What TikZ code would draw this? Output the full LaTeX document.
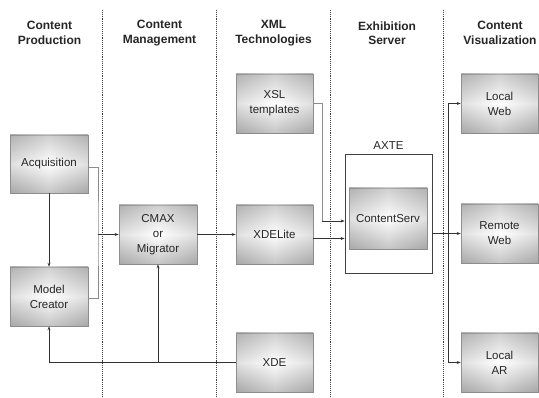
\documentclass[tikz,border=0pt]{standalone}
\usepackage{fontspec}
\setmainfont{Liberation Sans}
\usetikzlibrary{arrows.meta}

\tikzset{
  boxnode/.style={
    draw=black!45, line width=0.6pt,
    minimum width=77pt, minimum height=59pt,
    align=center, inner sep=1pt,
    font=\fontsize{11.5}{15}\selectfont, text=black!85,
    top color=black!26, bottom color=black!32, middle color=white,
    postaction={left color=black!40, right color=black!40, middle color=white, fill opacity=0.3}
  },
  header/.style={align=center, font=\bfseries\fontsize{12}{14.5}\selectfont, text=black!85},
  divider/.style={densely dotted, line width=0.9pt, black!75},
  link/.style={line width=0.7pt, black!80},
  arr/.style={link, -{Stealth[length=4pt,width=3pt]}},
  faint/.style={line width=0.7pt, black!45}
}

\begin{document}
\begin{tikzpicture}[x=1pt,y=-1pt]
  \useasboundingbox (0,0) rectangle (539,398);

  % column dividers
  \foreach \xx in {102,216,330,443}
    \draw[divider] (\xx,10) -- (\xx,398);

  % column headings
  \node[header] (h1) at (49.5,33) {Content\\Production};
  \node[header] (h2) at (159.5,33) {Content\\Management};
  \node[header] (h3) at (273.5,33) {XML\\Technologies};
  \node[header] (h4) at (387,33) {Exhibition\\Server};
  \node[header] (h5) at (500,33) {Content\\Visualization};

  % content production
  \node[boxnode, minimum width=78pt, minimum height=58pt] (acq) at (49,164) {Acquisition};
  \node[boxnode, minimum width=78pt] (model) at (49,296.5) {Model\\Creator};

  % content management
  \node[boxnode, minimum width=78pt] (cmax) at (158,234.5) {CMAX\\or\\Migrator};

  % XML technologies
  \node[boxnode] (xsl) at (274.5,103.5) {XSL\\templates};
  \node[boxnode] (xdelite) at (274.5,234.5) {XDELite};
  \node[boxnode] (xde) at (274.5,362.5) {XDE};

  % exhibition server
  \node[draw=black!75, line width=0.8pt, fill=white, minimum width=87pt, minimum height=119pt] (axte) at (388.5,213.5) {};
  \node[font=\fontsize{11.5}{13}\selectfont, text=black!85] (axtelbl) at (388.5,146) {AXTE};
  \node[boxnode, minimum width=78pt, minimum height=61pt] (cserv) at (388,218.5) {ContentServ};

  % content visualization
  \node[boxnode] (lweb) at (499.5,103.5) {Local\\Web};
  \node[boxnode] (rweb) at (499.5,233.5) {Remote\\Web};
  \node[boxnode] (lar) at (499.5,362.5) {Local\\AR};

  % production to management
  \draw[arr] (acq.south) -- (model.north);
  \coordinate (join) at (98,0 |- cmax.west);
  \draw[faint] ([yshift=-3.5pt]acq.east) -| (join) |- ([yshift=-1.5pt]model.east);
  \draw[arr] (join) -- (cmax.west);

  % management to XML
  \draw[arr] (cmax.east) -- (xdelite.west);
  \draw[arr] (xde.west) -| (model.south);
  \coordinate (tap) at (cmax.south |- xde.west);
  \draw[arr] (tap) -- (cmax.south);

  % XML to server
  \coordinate (xslbend) at (322,221);
  \draw[faint] (xsl.east) -| (xslbend);
  \draw[arr] (xslbend) -- (axte.west |- xslbend);
  \coordinate (xdeout) at ([yshift=-4pt]xdelite.east);
  \draw[arr] (xdeout) -- (axte.west |- xdeout);

  % server to visualization
  \coordinate (spx) at (448,0);
  \draw[arr] (axte.east |- rweb.west) -- (rweb.west);
  \draw[arr] (rweb.west -| spx) |- (lweb.west);
  \draw[arr] (rweb.west -| spx) |- (lar.west);
\end{tikzpicture}
\end{document}
